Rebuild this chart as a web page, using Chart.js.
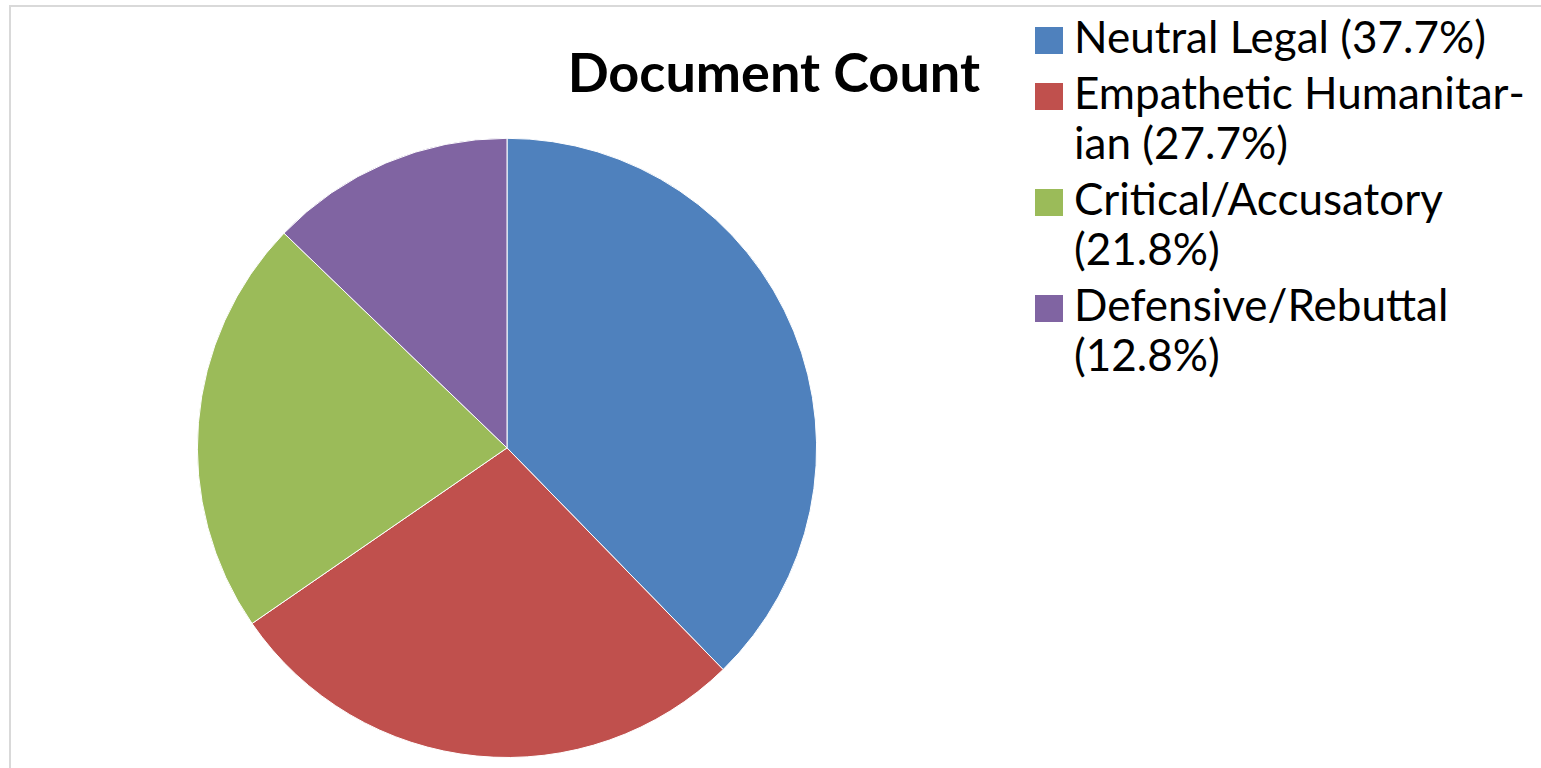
<!DOCTYPE html>
<html>
<head>
<meta charset="utf-8">
<script src="https://cdn.jsdelivr.net/npm/chart.js@4.4.1/dist/chart.umd.min.js"></script>
<style>
  html, body { margin: 0; padding: 0; background: #fff; overflow: hidden; }
  body { width: 1541px; height: 768px; position: relative; font-family: Lato, "Open Sans", sans-serif; }
  .frame { position: absolute; left: 9px; top: 5px; width: 1600px; height: 800px; border: 2px solid #d9d9d9; box-sizing: border-box; }
  #docPie { position: absolute; left: 0; top: 0; }
  #docLegend { position: absolute; left: 1035px; top: 11px; width: 506px; margin: 0; padding: 0; list-style: none; }
  #docLegend li { display: flex; align-items: flex-start; margin-bottom: 6px; }
  #docLegend .sw { flex: 0 0 28px; height: 27px; margin-top: 16px; }
  #docLegend .tx { margin-left: 11px; font-size: 44px; line-height: 50px; color: #000; hyphens: manual; }
</style>
</head>
<body>
<div class="frame"></div>
<canvas id="docPie" width="980" height="768"></canvas>
<ul id="docLegend"></ul>
<script>
(() => {
    // === DATA ===
    const labels = ['Neutral Legal', 'Empathetic Humanitar\u00ADian', 'Critical/Accusatory', 'Defensive/Rebuttal'];
    const values = [37.7, 27.7, 21.8, 12.8];

    // palet Office klasik
    const colors = ['#4f81bd', '#c0504d', '#9bbb59', '#8064a2'];

    const el = document.getElementById('docPie');
    if (!el || !window.Chart) return;

    new Chart(el.getContext('2d'), {
        type: 'pie',
        data: {
            labels,
            datasets: [{
                data: values,
                backgroundColor: colors,
                borderColor: '#ffffff',
                borderWidth: 1
            }]
        },
        options: {
            responsive: false,
            animation: false,
            layout: {
                padding: { left: 34, right: 0, top: 0, bottom: 10 }
            },
            plugins: {
                legend: { display: false },
                tooltip: { enabled: false },
                title: {
                    display: true,
                    text: 'Document Count',
                    align: 'end',
                    color: '#000',
                    font: { family: 'Lato', size: 54, weight: 'bold', lineHeight: 1.2 },
                    padding: { top: 42, bottom: 31 }
                }
            }
        }
    });

    // legenda HTML (teks dibungkus seperti aslinya)
    const legend = document.getElementById('docLegend');
    labels.forEach((lab, i) => {
        const li = document.createElement('li');
        const sw = document.createElement('span');
        sw.className = 'sw';
        sw.style.background = colors[i];
        const tx = document.createElement('span');
        tx.className = 'tx';
        tx.textContent = `${lab} (${values[i].toFixed(1)}%)`;
        li.appendChild(sw);
        li.appendChild(tx);
        legend.appendChild(li);
    });
})();
</script>
</body>
</html>
